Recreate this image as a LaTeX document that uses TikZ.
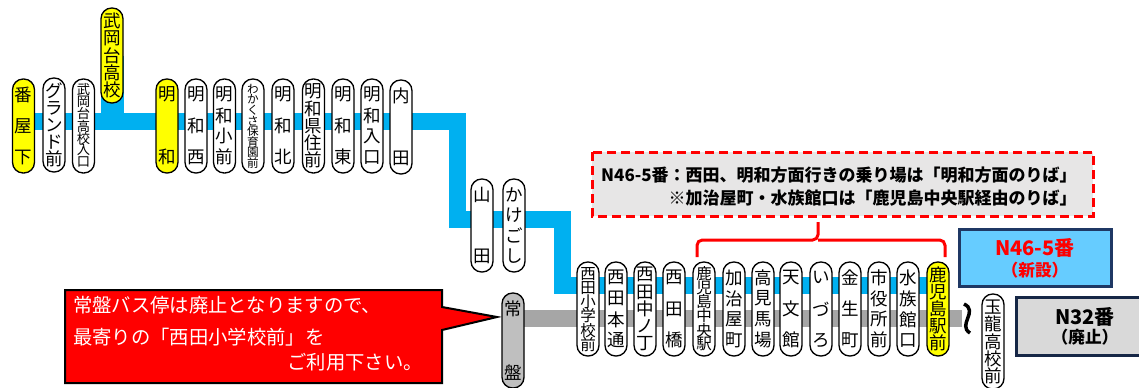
\documentclass[tikz,border=0pt]{standalone}
\usepackage{fontspec}
\setmainfont{Noto Sans CJK JP}
\usetikzlibrary{backgrounds}

\definecolor{cityblue}{HTML}{00B0F0}
\definecolor{bandgray}{HTML}{A6A6A6}
\definecolor{stopyellow}{HTML}{FFFF00}
\definecolor{tokiwagray}{HTML}{BFBFBF}
\definecolor{notegray}{HTML}{E7E6E6}
\definecolor{newblue}{HTML}{66CCFF}
\definecolor{navy}{HTML}{1F3864}
\definecolor{oldgray}{HTML}{D9D9D9}

% bus stop pill: name, x, top, height, fill, count, characters
\newcommand\busstop[7]{%
  \node[stopbox, fill=#5, minimum height=#4*0.75pt] (#1) at (#2,#3+#4/2) {};
  \pgfmathsetmacro\pad{ifthenelse(#6>4,4,7)}
  \pgfmathsetmacro\fpx{min(17.5,1.08*(#4-2*\pad)/#6)}
  \pgfmathsetmacro\gap{(#4-2*\pad-\fpx)/(#6-1)}
  \pgfmathsetmacro\fpt{0.75*\fpx}
  \foreach \ch [count=\i] in {#7}{
    \node[font=\fontsize{\fpt pt}{\fpt pt}\selectfont, inner sep=0pt] (#1-\i) at (#2,#3+\pad+\fpx/2+\i*\gap-\gap) {\ch};
  }
}

\begin{document}
\begin{tikzpicture}[x=0.75pt,y=-0.75pt,
  stopbox/.style={draw, line width=1pt, rounded corners=8pt, minimum width=16.5pt, inner sep=0pt},
  routeband/.style={line width=12.75pt},
  bracket/.style={red, line width=2.25pt, rounded corners=4pt},
  notebox/.style={fill=notegray, draw=red, line width=2.25pt, dash pattern=on 7pt off 3.5pt},
  notetext/.style={font=\bfseries\fontsize{12.75pt}{17.25pt}\selectfont, align=right, inner sep=0pt},
  warntext/.style={white, font=\fontsize{14.5pt}{17pt}\selectfont, inner sep=0pt},
  boxtext/.style={font=\bfseries\fontsize{15pt}{17pt}\selectfont, inner sep=0pt},
  boxsub/.style={font=\bfseries\fontsize{12.5pt}{14pt}\selectfont, inner sep=0pt}]
\useasboundingbox (0,0) rectangle (1139,387);

% upper row
\busstop{banya}{23.5}{79}{94}{stopyellow}{3}{番,屋,下}
\busstop{ground}{54}{78}{94}{white}{5}{グ,ラ,ン,ド,前}
\busstop{takeokairi}{83.5}{79}{94}{white}{7}{武,岡,台,高,校,入,口}
\busstop{takeoka}{112}{8}{95}{stopyellow}{5}{武,岡,台,高,校}
\busstop{meiwa}{167}{79}{94}{stopyellow}{2}{明,和}
\busstop{meiwanishi}{196}{79}{94}{white}{3}{明,和,西}
\busstop{meiwasho}{224.5}{79}{94}{white}{4}{明,和,小,前}
\busstop{wakakusa}{253}{79}{94}{white}{8}{わ,か,く,さ,保,育,園,前}
\busstop{meiwakita}{283}{79}{94}{white}{3}{明,和,北}
\busstop{kenju}{313.5}{79}{94}{white}{5}{明,和,県,住,前}
\busstop{meiwahigashi}{343}{79}{94}{white}{3}{明,和,東}
\busstop{meiwairi}{372}{79}{94}{white}{4}{明,和,入,口}
\busstop{uchida}{401}{80}{94}{white}{2}{内,田}

% middle
\busstop{yamada}{482}{179}{93}{white}{2}{山,田}
\busstop{kakegoshi}{514}{179}{93}{white}{4}{か,け,ご,し}

% lower row
\busstop{nishidasho}{588}{262}{94}{white}{6}{西,田,小,学,校,前}
\busstop{nishidahon}{616}{262}{94}{white}{4}{西,田,本,通}
\busstop{nishidanaka}{645}{262}{94}{white}{5}{西,田,中,ノ,丁}
\busstop{nishidabashi}{674}{262}{94}{white}{3}{西,田,橋}
\busstop{chuo}{704}{262}{94}{white}{6}{鹿,児,島,中,央,駅}
\busstop{kajiya}{734}{262}{94}{white}{4}{加,治,屋,町}
\busstop{takami}{763}{262}{94}{white}{4}{高,見,馬,場}
\busstop{tenmonkan}{791}{262}{94}{white}{3}{天,文,館}
\busstop{izuro}{821}{262}{94}{white}{3}{い,づ,ろ}
\busstop{kinsei}{850}{262}{94}{white}{3}{金,生,町}
\busstop{shiyakusho}{879}{262}{94}{white}{4}{市,役,所,前}
\busstop{suizoku}{908}{262}{94}{white}{4}{水,族,館,口}
\busstop{kagoshima}{938}{262}{94}{stopyellow}{5}{鹿,児,島,駅,前}
\busstop{tokiwa}{513}{293}{95}{tokiwagray}{2}{常,盤}
\busstop{gyokuryu}{993}{294}{95}{white}{5}{玉,龍,高,校,前}

\coordinate (tilde) at (962,318);
\coordinate (squig) at (967,318);

\begin{scope}[on background layer]
\fill[white] (0,0) rectangle (1139,387);
\draw[routeband, cityblue] (banya.center |- 0,121) -| (457,219.5) -| (562,285) -- (kagoshima.center |- 0,285);
\draw[routeband, cityblue, line width=17.25pt] (takeoka.center) -- (takeoka.center |- 0,121);
\draw[routeband, bandgray] (tokiwa.center |- 0,318) -- (tilde);
\end{scope}
\draw[line width=2.6pt] ([shift={(-3,-14)}]squig) .. controls ([shift={(12,-7)}]squig) and ([shift={(-10,7)}]squig) .. ([shift={(3,15)}]squig);

% note and bracket
\draw[notebox] (592,152) rectangle (1093,216);
\node[notetext, anchor=east] (note) at (1077,186.5) {N46-5番：西田、明和方面行きの乗り場は「明和方面のりば」\\※加治屋町・水族館口は「鹿児島中央駅経由のりば」};
\draw[bracket] (697,257) |- (818,240) -- (818,222);
\draw[bracket] (818,240) -| (945,257);

% route boxes
\draw[fill=newblue, draw=navy, line width=2.25pt] (959,229) rectangle (1111,286);
\node[boxtext, red] (n46) at (1035,248) {N46-5番};
\node[boxsub, red] (n46sub) at (1035,270) {（新設）};
\draw[fill=oldgray, draw=navy!70!black, line width=2.25pt] (1016,297) rectangle (1150,355);
\node[boxtext] (n32) at (1085,317) {N32番};
\node[boxsub] (n32sub) at (1085,337) {（廃止）};

% callout
\draw[fill=red, line width=1.5pt, line join=miter] (65,290) -- (442,290) -- (442,307) -- (497,317) -- (442,330) -- (442,383) -- (65,383) -- cycle;
\node[warntext, anchor=west] (warn1) at (73,305) {常盤バス停は廃止となりますので、};
\node[warntext, anchor=west] (warn2) at (73,337) {最寄りの「西田小学校前」を};
\node[warntext, anchor=east] (warn3) at (423,362) {ご利用下さい。};
\end{tikzpicture}
\end{document}
